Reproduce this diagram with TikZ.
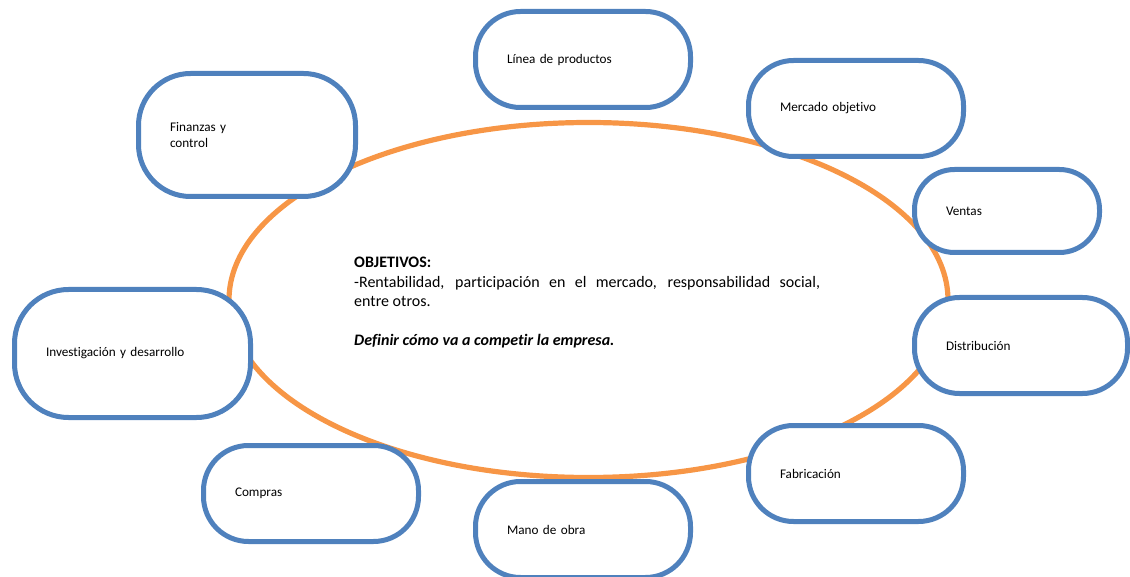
\documentclass[tikz,border=0pt]{standalone}
\usepackage{fontspec}
\setmainfont{Carlito}[Ligatures={NoCommon}]
\definecolor{boxblue}{HTML}{4F81BD}
\definecolor{ringorange}{HTML}{F79646}
\begin{document}
\begin{tikzpicture}[x=1pt,y=-1pt,
  box/.style={draw=boxblue, line width=5pt, fill=white, rounded corners=45pt,
    inner xsep=31.5pt, inner ysep=0pt, align=left, anchor=center,
    font=\fontsize{13.2}{16.1}\selectfont},
  ring/.style={draw=ringorange, line width=5.2pt},
  centertext/.style={anchor=base west, inner sep=0pt, font=\fontsize{16}{19.5}\selectfont}
]
\useasboundingbox (0,0) rectangle (1130,577);
\draw[ring] (588.5,300) ellipse [x radius=359.5, y radius=177.5];

\node[box, minimum width=215pt, minimum height=96pt, text width=152pt] (linea) at (583,59.5) {Línea de productos};
\node[box, minimum width=215pt, minimum height=96pt, text width=152pt] (mercado) at (856,108.5) {Mercado objetivo};
\node[box, rounded corners=52pt, minimum width=217pt, minimum height=123pt, text width=154pt] (finanzas) at (247,135) {Finanzas y\\control};
\node[box, rounded corners=40pt, minimum width=185pt, minimum height=83pt, text width=122pt] (ventas) at (1007,211) {Ventas};
\node[box, rounded corners=54pt, minimum width=236pt, minimum height=128pt, text width=173pt] (investigacion) at (132.5,353.5) {Investigación y desarrollo};
\node[box, minimum width=213pt, minimum height=96pt, text width=150pt] (distribucion) at (1021,345.5) {Distribución};
\node[box, minimum width=215pt, minimum height=96pt, text width=152pt] (compras) at (311,493.5) {Compras};
\node[box, minimum width=215pt, minimum height=96pt, text width=152pt] (fabricacion) at (856,473.5) {Fabricación};
\node[box, minimum width=215pt, minimum height=96pt, text width=152pt] (mano) at (583,529.5) {Mano de obra};

\node[centertext] (objetivos) at (354,268) {\parbox[t]{466pt}{\textbf{OBJETIVOS:}\\-Rentabilidad, participación en el mercado, responsabilidad social,\linebreak entre otros.\par\vspace{19.5pt}\textbf{\textit{Definir cómo va a competir la empresa.}}}};
\end{tikzpicture}
\end{document}
